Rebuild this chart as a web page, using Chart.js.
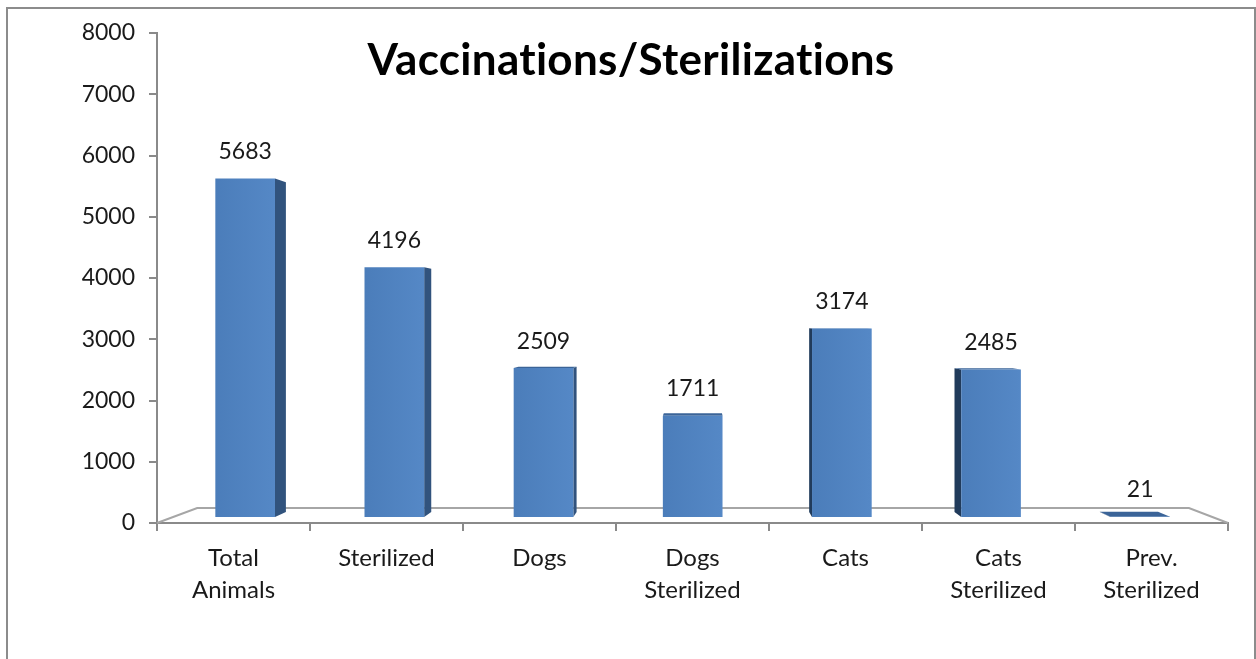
<!DOCTYPE html>
<html>
<head>
<meta charset="utf-8">
<script src="https://cdn.jsdelivr.net/npm/chart.js@4.4.1/dist/chart.umd.min.js"></script>
<style>
  html, body { margin: 0; padding: 0; background: #fff; overflow: hidden; }
  #wrap { position: relative; width: 1256px; height: 659px; }
  #frame {
    position: absolute; left: 6px; top: 7px; width: 1246px; height: 700px;
    border: 2px solid #8c8c8c; pointer-events: none;
  }
</style>
</head>
<body>
<div id="wrap">
  <canvas id="chartCanvas"></canvas>
  <div id="frame"></div>
</div>
<script>
const categories = [["Total", "Animals"], "Sterilized", "Dogs", ["Dogs", "Sterilized"], "Cats", ["Cats", "Sterilized"], ["Prev.", "Sterilized"]];
const counts = [5683, 4196, 2509, 1711, 3174, 2485, 21];
const yMin = 0;
const yMax = 8000;
const yStep = 1000;
const chartTitle = "Vaccinations/Sterilizations";

// fake 3d: everything is pushed toward a vanishing point
const VX = 700, VY = 320;
const K_FRONT = 0.025, K_BACK = 0.05, K_FLOOR = 0.074;
const FONT = "Lato, 'Open Sans', sans-serif";

function proj(x, y, k) {
  return [x + k * (VX - x), y + k * (VY - y)];
}

function poly(ctx, pts, fill) {
  ctx.beginPath();
  ctx.moveTo(pts[0][0], pts[0][1]);
  for (let i = 1; i < pts.length; i++) ctx.lineTo(pts[i][0], pts[i][1]);
  ctx.closePath();
  ctx.fillStyle = fill;
  ctx.fill();
}

const bars3d = {
  id: "bars3d",
  beforeDatasetsDraw(chart) {
    const ctx = chart.ctx;
    const { left, right, bottom } = chart.chartArea;
    const bl = proj(left, bottom, K_FLOOR);
    const br = proj(right, bottom, K_FLOOR);
    ctx.save();
    ctx.strokeStyle = "#a6a6a6";
    ctx.lineWidth = 2;
    ctx.beginPath();
    ctx.moveTo(left, bottom);
    ctx.lineTo(bl[0], bl[1]);
    ctx.lineTo(br[0], br[1]);
    ctx.lineTo(right, bottom);
    ctx.stroke();
    ctx.restore();
  },
  afterDatasetsDraw(chart) {
    const ctx = chart.ctx;
    const meta = chart.getDatasetMeta(0);
    ctx.save();
    meta.data.forEach((bar, i) => {
      const { x, y, base, width } = bar.getProps(["x", "y", "base", "width"], true);
      const x0 = x - width / 2, x1 = x + width / 2;
      const ftl = proj(x0, y, K_FRONT), ftr = proj(x1, y, K_FRONT);
      const fbl = proj(x0, base, K_FRONT), fbr = proj(x1, base, K_FRONT);
      const btl = proj(x0, y, K_BACK), btr = proj(x1, y, K_BACK);
      const bbl = proj(x0, base, K_BACK), bbr = proj(x1, base, K_BACK);

      if (x1 < VX) poly(ctx, [ftr, btr, bbr, fbr], "#31537d");
      if (x0 > VX) poly(ctx, [ftl, btl, bbl, fbl], "#213b5b");
      if (y > VY) poly(ctx, [ftl, ftr, btr, btl], "#3b6498");

      const g = ctx.createLinearGradient(ftl[0], 0, ftr[0], 0);
      g.addColorStop(0, "#4b7dba");
      g.addColorStop(1, "#5588c6");
      poly(ctx, [ftl, ftr, fbr, fbl], g);

      ctx.fillStyle = "#1a1a1a";
      ctx.font = "23px " + FONT;
      ctx.textAlign = "center";
      ctx.textBaseline = "middle";
      ctx.fillText(String(counts[i]), (ftl[0] + ftr[0]) / 2, ftl[1] - 27);
    });

    ctx.fillStyle = "#000";
    ctx.font = "bold 44px " + FONT;
    ctx.letterSpacing = "0.3px";
    ctx.textAlign = "center";
    ctx.textBaseline = "alphabetic";
    ctx.fillText(chartTitle, 631, 75);
    ctx.restore();
  }
};

const ctx = document.getElementById("chartCanvas");

new Chart(ctx, {
  type: "bar",
  data: {
    labels: categories,
    datasets: [{
      data: counts,
      backgroundColor: "rgba(0,0,0,0)",
      borderWidth: 0,
      barPercentage: 0.4,
      categoryPercentage: 1
    }]
  },
  options: {
    responsive: true,
    maintainAspectRatio: false,
    animation: false,
    layout: { padding: { top: 33, right: 28, left: 0, bottom: 0 } },
    plugins: {
      legend: { display: false },
      tooltip: { enabled: false }
    },
    scales: {
      x: {
        afterFit: s => { s.height = 136; },
        border: { color: "#8a8a8a", width: 2 },
        grid: { drawOnChartArea: false, drawTicks: true, tickLength: 8, color: "#8a8a8a", lineWidth: 2 },
        ticks: {
          color: "#1a1a1a",
          padding: 11,
          maxRotation: 0,
          font: { family: FONT, size: 24, lineHeight: 1.33 }
        }
      },
      y: {
        min: yMin,
        max: yMax,
        afterFit: s => { s.width = 157; },
        border: { color: "#8a8a8a", width: 2 },
        grid: { drawOnChartArea: false, drawTicks: true, tickLength: 8, color: "#8a8a8a", lineWidth: 2 },
        ticks: {
          stepSize: yStep,
          color: "#1a1a1a",
          padding: 14,
          font: { family: FONT, size: 23 },
          callback: v => String(v)
        }
      }
    }
  },
  plugins: [bars3d]
});
</script>
</body>
</html>
